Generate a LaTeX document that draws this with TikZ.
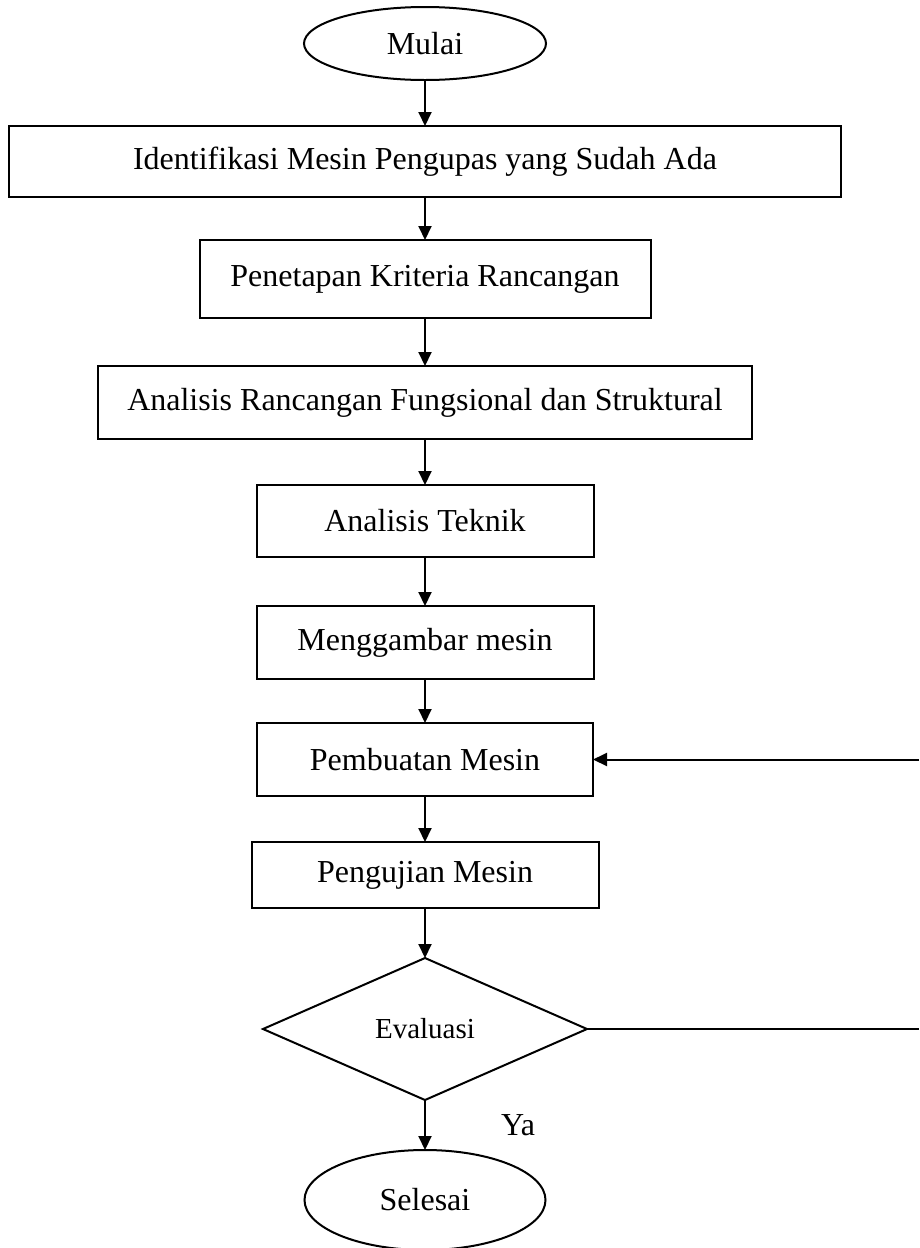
\documentclass[tikz,border=0pt]{standalone}
\usepackage{fontspec}
\setmainfont{Liberation Serif}
\usetikzlibrary{positioning,shapes.geometric,arrows.meta}

\begin{document}
\begin{tikzpicture}[x=1pt,y=-1pt,line width=2pt,
        >={Triangle[length=14pt,width=13pt]},
        font=\fontsize{32}{38}\selectfont,
        proc/.style={draw,rectangle,inner sep=0pt,outer sep=0pt,minimum height=73pt},
        term/.style={draw,ellipse,inner sep=0pt,outer sep=0pt,minimum width=242pt},
        decide/.style={draw,diamond,aspect=2.28,inner sep=0pt,outer sep=0pt,
          minimum width=324pt,minimum height=142pt,
          font=\fontsize{29}{34}\selectfont}]
      \useasboundingbox (0,0) rectangle (919,1248);
      %% \draw[help lines,step=100] (0,0) grid (919,1248);
      \node[term,minimum height=73pt] (mulai) at (425,43.5) {Mulai};
      \node[proc,minimum width=832pt,minimum height=71pt] (ident) [below=46pt of mulai] {Identifikasi Mesin Pengupas yang Sudah Ada};
      \node[proc,minimum width=451pt,minimum height=78pt] (krit) [below=43pt of ident] {Penetapan Kriteria Rancangan};
      \node[proc,minimum width=654pt] (fungs) [below=48pt of krit] {Analisis Rancangan Fungsional dan Struktural};
      \node[proc,minimum width=337pt,minimum height=72pt] (tekn) [below=46pt of fungs] {Analisis Teknik};
      \node[proc,minimum width=337pt] (gamb) [below=49pt of tekn] {Menggambar mesin};
      \node[proc,minimum width=336pt] (buat) [below=44pt of gamb] {Pembuatan Mesin};
      \node[proc,minimum width=347pt,minimum height=66pt] (uji) [below=46pt of buat] {Pengujian Mesin};
      \node[decide] (eval) [below=50pt of uji] {Evaluasi};
      \node[term,minimum height=100pt,minimum width=241pt] (sel) [below=50pt of eval] {Selesai};
      %% loop back leaves the page on the right
      \coordinate (rim) at (919,0);
      \coordinate (fb_a) at (eval.east -| rim);
      \coordinate (fb_b) at (buat.east -| rim);
      \path[->] (mulai) edge (ident)
      (ident) edge (krit)
      (krit) edge (fungs)
      (fungs) edge (tekn)
      (tekn) edge (gamb)
      (gamb) edge (buat)
      (buat) edge (uji)
      (uji) edge (eval)
      (eval) edge node [right=75pt,inner sep=0pt] {Ya} (sel);
      \draw (eval.east) -- (fb_a);
      \draw[->] (fb_b) -- (buat.east);
    \end{tikzpicture}
\end{document}
